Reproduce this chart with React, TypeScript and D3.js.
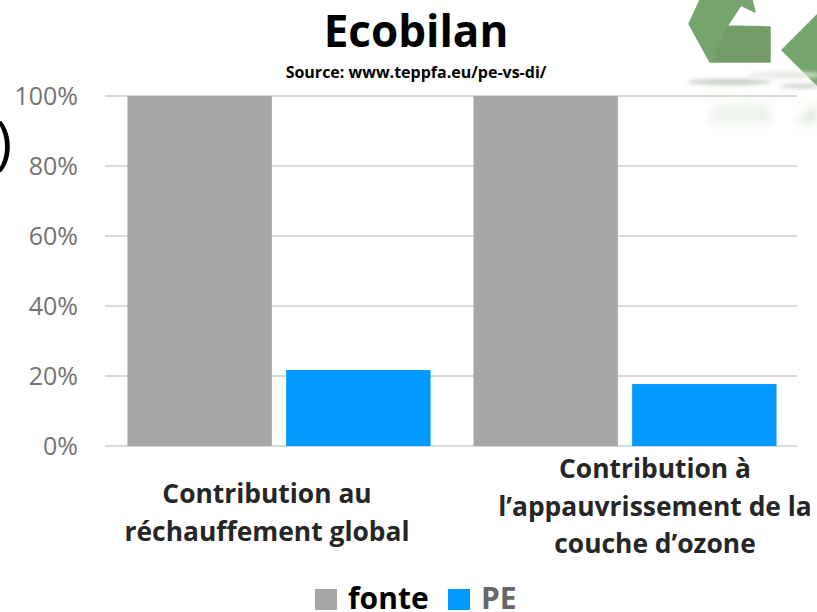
import { useEffect, useRef } from 'react';
import * as d3 from 'd3';

const categories = ['rechauffement', 'ozone'];
const categoryLines = [
  ['Contribution au', 'réchauffement global'],
  ['Contribution à', 'l’appauvrissement de la', 'couche d’ozone'],
];
const seriesNames = ['fonte', 'PE'];
const fonteValues = [100, 100];
const peValues = [21.7, 17.7];
const yTicks = [0, 20, 40, 60, 80, 100];
const seriesColors = ['#a6a6a6', '#0099ff'];

const WIDTH = 817;
const HEIGHT = 612;
const FONT = '"Open Sans", Lato, sans-serif';

export default function App() {
  const svgRef = useRef<SVGSVGElement>(null);

  useEffect(() => {
    if (!svgRef.current) return;
    const svg = d3.select(svgRef.current);
    svg.selectAll('*').remove();

    const margin = { top: 96, right: 20, bottom: 166, left: 105 };
    const y = d3.scaleLinear().domain([0, 100]).range([HEIGHT - margin.bottom, margin.top]);
    const x0 = d3
      .scaleBand()
      .domain(categories)
      .range([margin.left + 1, WIDTH - margin.right + 1])
      .paddingInner(0.124)
      .paddingOuter(0.062);
    const x1 = d3.scaleBand().domain(seriesNames).range([0, x0.bandwidth()]).paddingInner(0.09);

    // Logo (decoration behind the chart)
    const defs = svg.append('defs');
    const blur = defs.append('filter').attr('id', 'soft').attr('x', '-30%').attr('y', '-200%').attr('width', '160%').attr('height', '500%');
    blur.append('feGaussianBlur').attr('stdDeviation', 2);
    const blurWide = defs.append('filter').attr('id', 'softer').attr('x', '-30%').attr('y', '-50%').attr('width', '160%').attr('height', '200%');
    blurWide.append('feGaussianBlur').attr('stdDeviation', 4);
    const logo = svg.append('g').attr('stroke-linejoin', 'round');
    logo.append('path').attr('d', 'M700 0 L689 24 L710 62 L770 62 L770 27 L727 26 L741 5 L755 12 L752 0 Z').attr('fill', '#75a56d').attr('stroke', '#75a56d').attr('stroke-width', 1.5);
    logo.append('path').attr('d', 'M727 27 L770 27 L770 62 L717 62 L716 52 Z').attr('fill', '#729b68');
    logo.append('path').attr('d', 'M817 14 L781 50 L817 86 Z').attr('fill', '#75a56d');
    logo.append('ellipse').attr('cx', 730).attr('cy', 82).attr('rx', 42).attr('ry', 3).attr('fill', '#c4cdc2').attr('filter', 'url(#soft)');
    logo.append('ellipse').attr('cx', 785).attr('cy', 75).attr('rx', 38).attr('ry', 3).attr('fill', '#e2e6e0').attr('filter', 'url(#soft)');
    logo.append('ellipse').attr('cx', 800).attr('cy', 86).attr('rx', 20).attr('ry', 2).attr('fill', '#c4cdc2').attr('filter', 'url(#soft)');
    logo.append('path').attr('d', 'M708 124 L712 106 L770 103 L771 124 Z').attr('fill', '#eef3ec').attr('filter', 'url(#softer)');
    logo.append('path').attr('d', 'M795 124 L817 100 L817 124 Z').attr('fill', '#e3ede0').attr('filter', 'url(#softer)');

    // Cut-off bracket on the left edge
    svg
      .append('text')
      .attr('x', -5)
      .attr('y', 163)
      .attr('font-family', FONT)
      .attr('font-size', 58)
      .attr('fill', '#000')
      .text(')');

    // Grid
    svg
      .append('g')
      .selectAll('line')
      .data(yTicks)
      .enter()
      .append('line')
      .attr('x1', margin.left)
      .attr('x2', WIDTH - margin.right)
      .attr('y1', (d) => y(d))
      .attr('y2', (d) => y(d))
      .attr('stroke', '#d9d9d9')
      .attr('stroke-width', 2);

    // Y axis
    const yAxis = svg
      .append('g')
      .attr('transform', `translate(${margin.left - 24},0)`)
      .call(d3.axisLeft(y).tickValues(yTicks).tickSize(0).tickFormat((d) => `${d}%`));
    yAxis.select('.domain').remove();
    yAxis
      .selectAll('text')
      .attr('font-family', FONT)
      .attr('font-size', 25)
      .attr('fill', '#737373');

    // Bars
    const seriesValues = [fonteValues, peValues];
    seriesNames.forEach((name, s) => {
      svg
        .append('g')
        .selectAll('rect')
        .data(seriesValues[s])
        .enter()
        .append('rect')
        .attr('x', (_, i) => (x0(categories[i]) ?? 0) + (x1(name) ?? 0))
        .attr('y', (d) => y(d))
        .attr('width', x1.bandwidth())
        .attr('height', (d) => y(0) - y(d))
        .attr('fill', seriesColors[s]);
    });

    // Category labels
    const labelY = [494, 469];
    const labelCenters = [267, 655];
    categoryLines.forEach((lines, i) => {
      lines.forEach((line, j) => {
        svg
          .append('text')
          .attr('x', labelCenters[i])
          .attr('y', labelY[i] + j * 37.5 + 9)
          .attr('text-anchor', 'middle')
          .attr('font-family', FONT)
          .attr('font-weight', 700)
          .attr('font-size', 26.4)
          .attr('fill', '#262626')
          .text(line);
      });
    });

    // Title
    svg
      .append('text')
      .attr('x', 416)
      .attr('y', 47)
      .attr('text-anchor', 'middle')
      .attr('font-family', FONT)
      .attr('font-weight', 700)
      .attr('font-size', 44)
      .attr('fill', '#000')
      .text('Ecobilan');
    svg
      .append('text')
      .attr('x', 416)
      .attr('y', 78)
      .attr('text-anchor', 'middle')
      .attr('font-family', FONT)
      .attr('font-weight', 700)
      .attr('font-size', 16)
      .attr('fill', '#000')
      .text('Source: www.teppfa.eu/pe-vs-di/');

    // Legend
    const legendX = [315, 448];
    const legendText = ['#000', '#666'];
    seriesNames.forEach((name, s) => {
      svg
        .append('rect')
        .attr('x', legendX[s])
        .attr('y', 589)
        .attr('width', 22)
        .attr('height', 21)
        .attr('fill', seriesColors[s]);
      svg
        .append('text')
        .attr('x', legendX[s] + 33)
        .attr('y', 609)
        .attr('font-family', FONT)
        .attr('font-weight', 700)
        .attr('font-size', 30)
        .attr('fill', legendText[s])
        .text(name);
    });
  }, []);

  return (
    <svg
      ref={svgRef}
      width={WIDTH}
      height={HEIGHT}
      style={{ position: 'fixed', left: 0, top: 0, background: '#fff' }}
    />
  );
}
